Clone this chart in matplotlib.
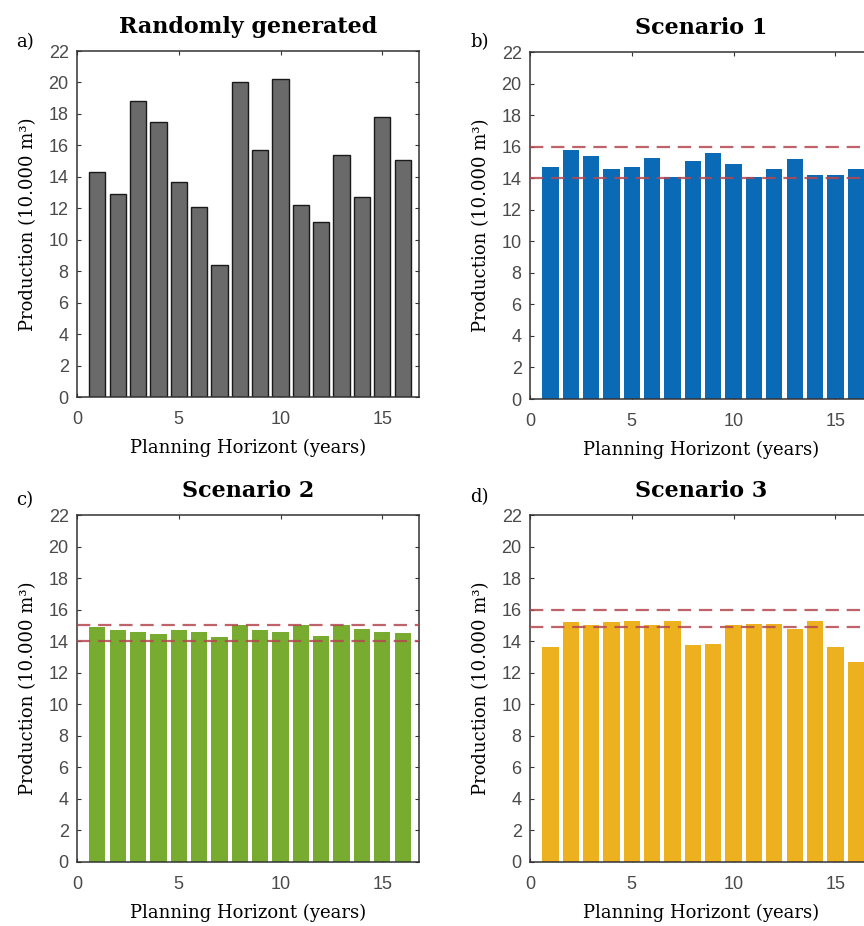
import numpy as np
import matplotlib.pyplot as plt

years = list(range(1, 17))

random_prod = [14.3, 12.9, 18.8, 17.5, 13.7, 12.1, 8.4, 20.0,
               15.7, 20.2, 12.2, 11.1, 15.4, 12.7, 17.8, 15.1]
scen1_prod = [14.7, 15.8, 15.4, 14.6, 14.7, 15.3, 14.1, 15.1,
              15.6, 14.9, 14.1, 14.6, 15.2, 14.2, 14.2, 14.6]
scen2_prod = [14.9, 14.7, 14.6, 14.45, 14.7, 14.6, 14.25, 15.0,
              14.7, 14.6, 15.0, 14.35, 15.0, 14.8, 14.6, 14.55]
scen3_prod = [13.6, 15.2, 15.0, 15.2, 15.3, 15.0, 15.3, 13.75,
              13.8, 15.0, 15.1, 15.1, 14.8, 15.3, 13.6, 12.7]

# lower / upper production limits (dashed lines)
scen1_limits = [14.0, 16.0]
scen2_limits = [14.0, 15.0]
scen3_limits = [14.9, 16.0]

titles = ["Randomly generated", "Scenario 1", "Scenario 2", "Scenario 3"]
panel_tags = ["a)", "b)", "c)", "d)"]
xticks = [0, 5, 10, 15]
yticks = list(range(0, 23, 2))

W, H = 864, 926
fig = plt.figure(figsize=(W / 100, H / 100), dpi=100)

def px_axes(left, top, right, bottom):
    return fig.add_axes([left / W, 1 - bottom / H, (right - left) / W, (bottom - top) / H])

serif = "DejaVu Serif"
tick_col = "#4a4a4a"

boxes = [(77, 51, 419, 397), (530, 52, 872, 399),
         (77, 515, 419, 862), (530, 515, 872, 862)]
data = [random_prod, scen1_prod, scen2_prod, scen3_prod]
colors = ["#6a6a6a", "#0A6AB6", "#77AC30", "#EDB120"]
limits = [None, scen1_limits, scen2_limits, scen3_limits]
tag_pos = [(16, 42), (470, 42), (16, 500), (470, 497)]

for i in range(4):
    ax = px_axes(*boxes[i])
    if i == 0:
        ax.bar(years, data[i], width=0.8, color=colors[i], edgecolor="#1a1a1a", linewidth=1.0, zorder=2)
    else:
        ax.bar(years, data[i], width=0.8, color=colors[i], edgecolor="none", zorder=2)
        for lim in limits[i]:
            ax.axhline(lim, color="#b5474f", lw=1.6, ls=(0, (6, 3.5)), alpha=0.85, zorder=3)
    ax.set_xlim(0, 16.8)
    ax.set_ylim(0, 22)
    ax.set_xticks(xticks)
    ax.set_yticks(yticks)
    ax.tick_params(direction="in", top=True, right=True, length=3, width=0.8,
                   labelsize=13, labelcolor=tick_col, color="#333333")
    ax.tick_params(axis="x", pad=10)
    ax.tick_params(axis="y", pad=6)
    for lab in ax.get_xticklabels() + ax.get_yticklabels():
        lab.set_fontfamily("Liberation Sans")
    for s in ax.spines.values():
        s.set_color("#333333")
        s.set_linewidth(1.1)
    ax.set_xlabel("Planning Horizont (years)", fontfamily=serif, fontsize=13, labelpad=8)
    ax.set_ylabel("Production (10.000 m³)", fontfamily=serif, fontsize=13, labelpad=8)
    ax.set_title(titles[i], fontfamily=serif, fontweight="bold", fontsize=16, pad=13)
    fig.text(tag_pos[i][0] / W, 1 - tag_pos[i][1] / H, panel_tags[i],
             fontfamily=serif, fontsize=13, va="center", ha="left")

fig.savefig("out.png", dpi=100)
